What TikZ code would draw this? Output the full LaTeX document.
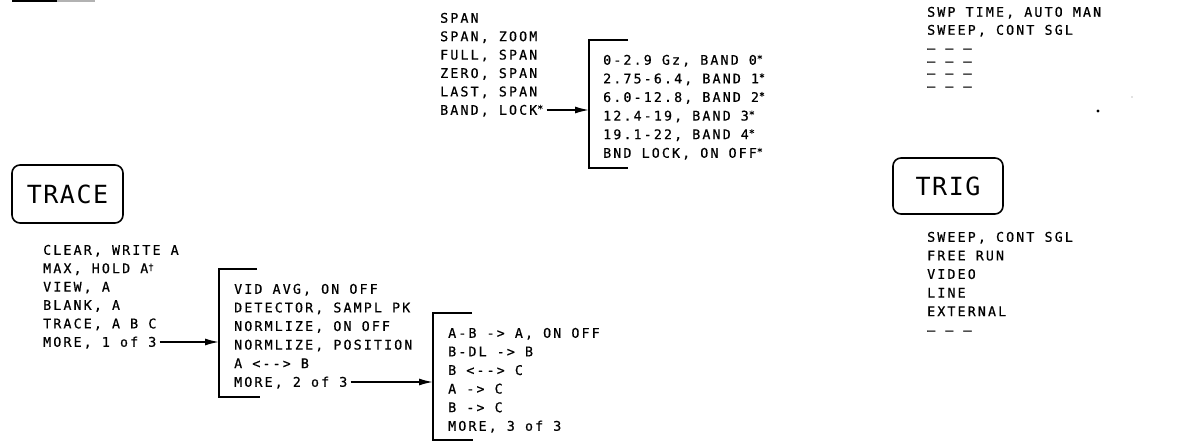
\documentclass[tikz,border=0pt]{standalone}
\usepackage{fontspec}
\usepackage{tikz}
\usetikzlibrary{arrows.meta}
\newfontfamily\plotfont[LetterSpace=16,FakeBold=0.6]{DejaVu Sans Mono}
\newfontfamily\keyfont[LetterSpace=6]{DejaVu Sans Mono}
\newcommand{\upstar}{\raisebox{2.5pt}{\fontsize{10}{10}\selectfont *}}
\newcommand{\updag}{\raisebox{3pt}{\fontsize{9}{9}\selectfont †}}

\begin{document}
\begin{tikzpicture}[x=1pt,y=-1pt,
  menu/.style={anchor=west,inner sep=0pt,text height=9.5pt,text depth=0pt,font={\plotfont\fontsize{13.3}{15}\selectfont}},
  keybox/.style={draw,line width=1.6pt,rounded corners=8pt,inner sep=0pt,font={\keyfont\fontsize{25}{30}\selectfont}},
  bracket/.style={line width=1.7pt},
  feed/.style={line width=1.5pt,shorten <=3pt,-{Latex[length=14pt,width=7pt]}}]
\useasboundingbox (0,0) rectangle (1181,444);
\draw[line width=1.8pt] (12,0.9) -- (57,0.9);
\draw[line width=1.8pt,gray!60] (57,0.9) -- (95,0.9);
\fill (1098,111) circle (1.6);
\fill[gray] (1132,97) circle (0.6);
\foreach \txt [count=\i] in {SPAN,{SPAN, ZOOM},{FULL, SPAN},{ZERO, SPAN},{LAST, SPAN},{BAND, LOCK\upstar}}
  \node[menu] (span-\i) at (440,{18+(\i-1)*18.4}) {\txt};
\coordinate (bandbar) at (589,40);
\draw[bracket] (628,40) -- (bandbar) -- (589,168) -- (628,168);
\foreach \txt [count=\i] in {{0-2.9 Gz, BAND 0\upstar},{2.75-6.4, BAND 1\upstar},{6.0-12.8, BAND 2\upstar},{12.4-19, BAND 3\upstar},{19.1-22, BAND 4\upstar},{BND LOCK, ON OFF\upstar}}
  \node[menu] (band-\i) at (603,{60+(\i-1)*18.6}) {\txt};
\draw[feed] (span-6.east) -- (span-6.east -| bandbar);
\node[menu] (swp-1) at (927,12) {SWP TIME, AUTO MAN};
\node[menu] (swp-2) at (927,30) {SWEEP, CONT SGL};
\foreach \y [count=\i from 3] in {48,61,73,86}
  \node[menu] (swp-\i) at (927,\y) {– – –};
\node[keybox,minimum width=111pt,minimum height=58pt] (trace) at (67.5,194) {TRACE};
\node[keybox,minimum width=110pt,minimum height=56pt] (trig) at (948,186) {TRIG};
\foreach \txt [count=\i] in {{SWEEP, CONT SGL},FREE RUN,VIDEO,LINE,EXTERNAL,– – –}
  \node[menu] (trig-\i) at (927,{237+(\i-1)*18.6}) {\txt};
\foreach \txt [count=\i] in {{CLEAR, WRITE A},{MAX, HOLD A\updag},{VIEW, A},{BLANK, A},{TRACE, A B C},{MORE, 1 of 3}}
  \node[menu] (trace-\i) at (43,{250+(\i-1)*18.4}) {\txt};
\coordinate (avgbar) at (219,269);
\draw[bracket] (257,269) -- (avgbar) -- (219,397) -- (260,397);
\foreach \txt [count=\i] in {{VID AVG, ON OFF},{DETECTOR, SAMPL PK},{NORMLIZE, ON OFF},{NORMLIZE, POSITION},{A <-{}-> B},{MORE, 2 of 3}}
  \node[menu] (avg-\i) at (234,{289+(\i-1)*18.6}) {\txt};
\draw[feed] (trace-6.east) -- (trace-6.east -| avgbar);
\coordinate (abbar) at (433,313);
\draw[bracket] (472,313) -- (abbar) -- (433,440) -- (473,440);
\foreach \txt [count=\i] in {{A-B -> A, ON OFF},{B-DL -> B},{B <-{}-> C},{A -> C},{B -> C},{MORE, 3 of 3}}
  \node[menu] (ab-\i) at (448,{333+(\i-1)*18.6}) {\txt};
\draw[feed] (avg-6.east) -- (avg-6.east -| abbar);
\end{tikzpicture}
\end{document}
